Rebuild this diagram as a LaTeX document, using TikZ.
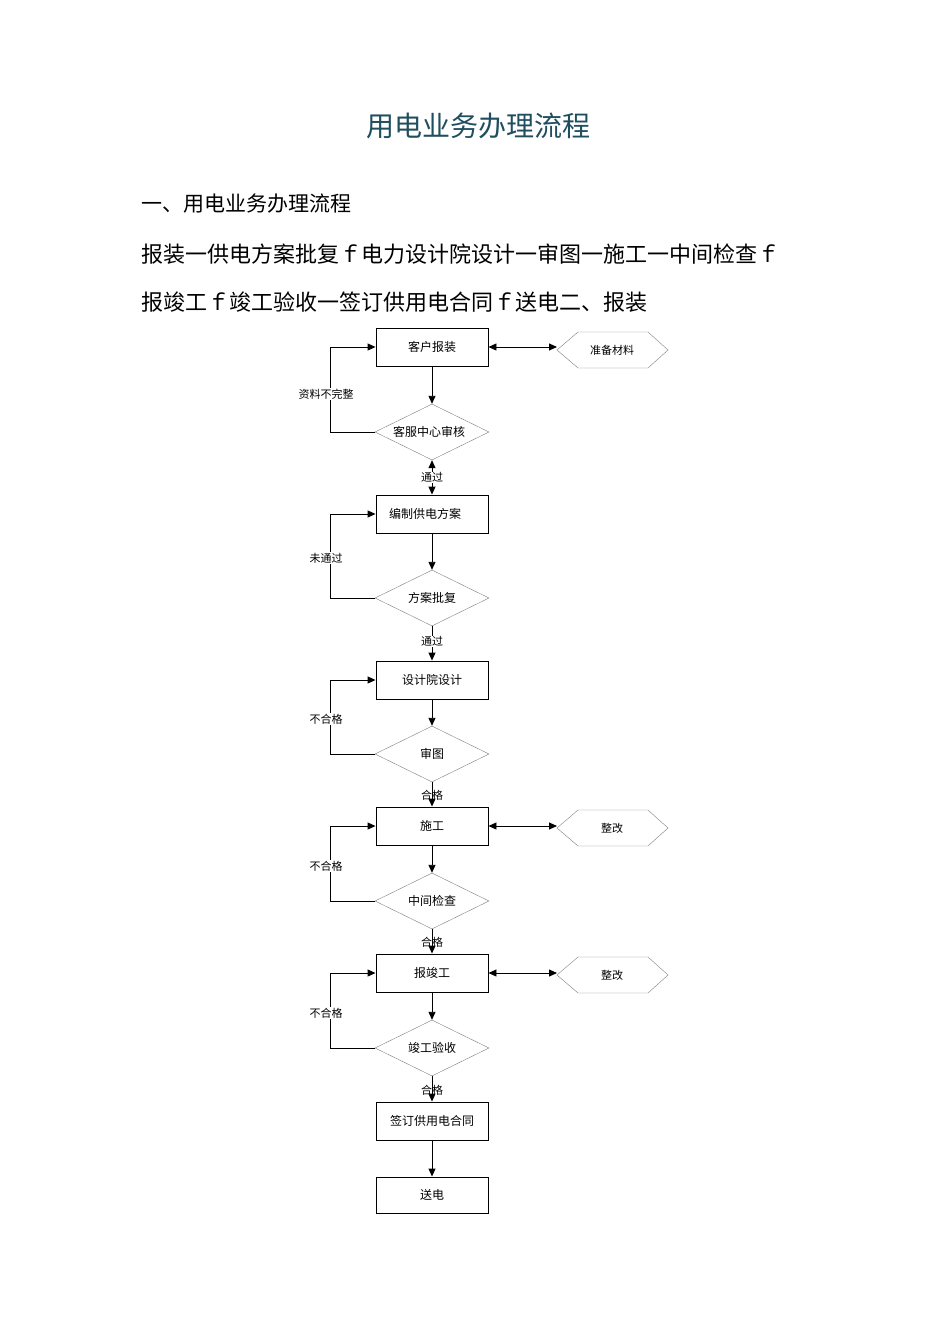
\documentclass[tikz,border=0pt]{standalone}
\usepackage{fontspec}
\setmainfont{Noto Sans CJK SC}
\usetikzlibrary{shapes.geometric,arrows.meta}
\definecolor{titlec}{HTML}{1F4E5F}
\begin{document}
\begin{tikzpicture}[x=1pt,y=-1pt,
 box/.style={draw,line width=0.9pt,minimum width=112pt,minimum height=38pt,inner sep=0pt,font=\fontsize{12}{14}\selectfont},
 dia/.style={draw=gray,diamond,aspect=2,minimum width=114pt,minimum height=56pt,inner sep=0pt,font=\fontsize{12}{14}\selectfont},
 lab/.style={font=\fontsize{11}{13}\selectfont,fill=white,inner sep=0.5pt},
 arr/.style={line width=0.9pt,-{Triangle[length=8pt,width=7pt]}},
 darr/.style={line width=0.9pt,{Triangle[length=8pt,width=7pt]}-{Triangle[length=8pt,width=7pt]}}]
\useasboundingbox[fill=white] (0,0) rectangle (950,1344);
\node[text=titlec,font=\fontsize{28}{32}\selectfont] (title) at (478,126) {用电业务办理流程};
\node[anchor=west,font=\fontsize{21}{24}\selectfont] (h1) at (138,204) {一、用电业务办理流程};
\node[anchor=west,font=\fontsize{22}{24}\selectfont] (l1) at (138,254) {报装一供电方案批复ｆ电力设计院设计一审图一施工一中间检查ｆ};
\node[anchor=west,font=\fontsize{22}{24}\selectfont] (l2) at (138,302) {报竣工ｆ竣工验收一签订供用电合同ｆ送电二、报装};
% nodes
\node[box] (b1) at (432,347) {客户报装};
\node[dia] (d1) at (432,432) {\hspace*{-6pt}客服中心审核};
\node[box] (b2) at (432,514) {\hspace*{-14pt}编制供电方案};
\node[dia] (d2) at (432,598) {方案批复};
\node[box] (b3) at (432,680) {设计院设计};
\node[dia] (d3) at (432,754) {审图};
\node[box] (b4) at (432,826) {施工};
\node[dia] (d4) at (432,901) {中间检查};
\node[box] (b5) at (432,973) {报竣工};
\node[dia] (d5) at (432,1048) {竣工验收};
\node[box] (b6) at (432,1121) {签订供用电合同};
\node[box,minimum height=36pt] (b7) at (432,1195) {送电};
\foreach \n/\y/\t/\b in {hx1/350/准备材料/b1,hx2/828/整改/b4,hx3/975/整改/b5}{
 \path[draw=gray] (557,\y) -- (578,\y-18) -- (648,\y-18) -- (668,\y) -- (648,\y+18) -- (578,\y+18) -- cycle;
 \node[font=\fontsize{11}{13}\selectfont,inner sep=0pt] (\n) at (612,\y) {\t};
 \coordinate (\n w) at (557,0 |- \b.east);
 \draw[darr] (\b.east) -- (\n w);
}
% vertical
\draw[arr] (b1) -- (d1);
\draw[darr] (d1) -- (b2) node[lab,midway] {通过};
\draw[arr] (b2) -- (d2);
\draw[arr] (d2) -- (b3) node[lab,pos=0.45] {通过};
\draw[arr] (b3) -- (d3);
\draw[arr] (d3) -- (b4) node[lab,pos=0.55,fill=none] {合格};
\draw[arr] (b4) -- (d4);
\draw[arr] (d4) -- (b5) node[lab,pos=0.55,fill=none] {合格};
\draw[arr] (b5) -- (d5);
\draw[arr] (d5) -- (b6) node[lab,pos=0.55,fill=none] {合格};
\draw[arr] (b6) -- (b7);
% loops
\foreach \d/\b/\t/\ly in {d1/b1/资料不完整/394,d2/b2/未通过/558,d3/b3/不合格/719,d4/b4/不合格/866,d5/b5/不合格/1013}{
 \draw[arr] (\d.west) -| (330,0 |- \b.west) -- (\b.west);
 \node[font=\fontsize{11}{13}\selectfont,fill=white,inner sep=0.5pt] at (326,\ly) {\t};
}
\end{tikzpicture}
\end{document}
